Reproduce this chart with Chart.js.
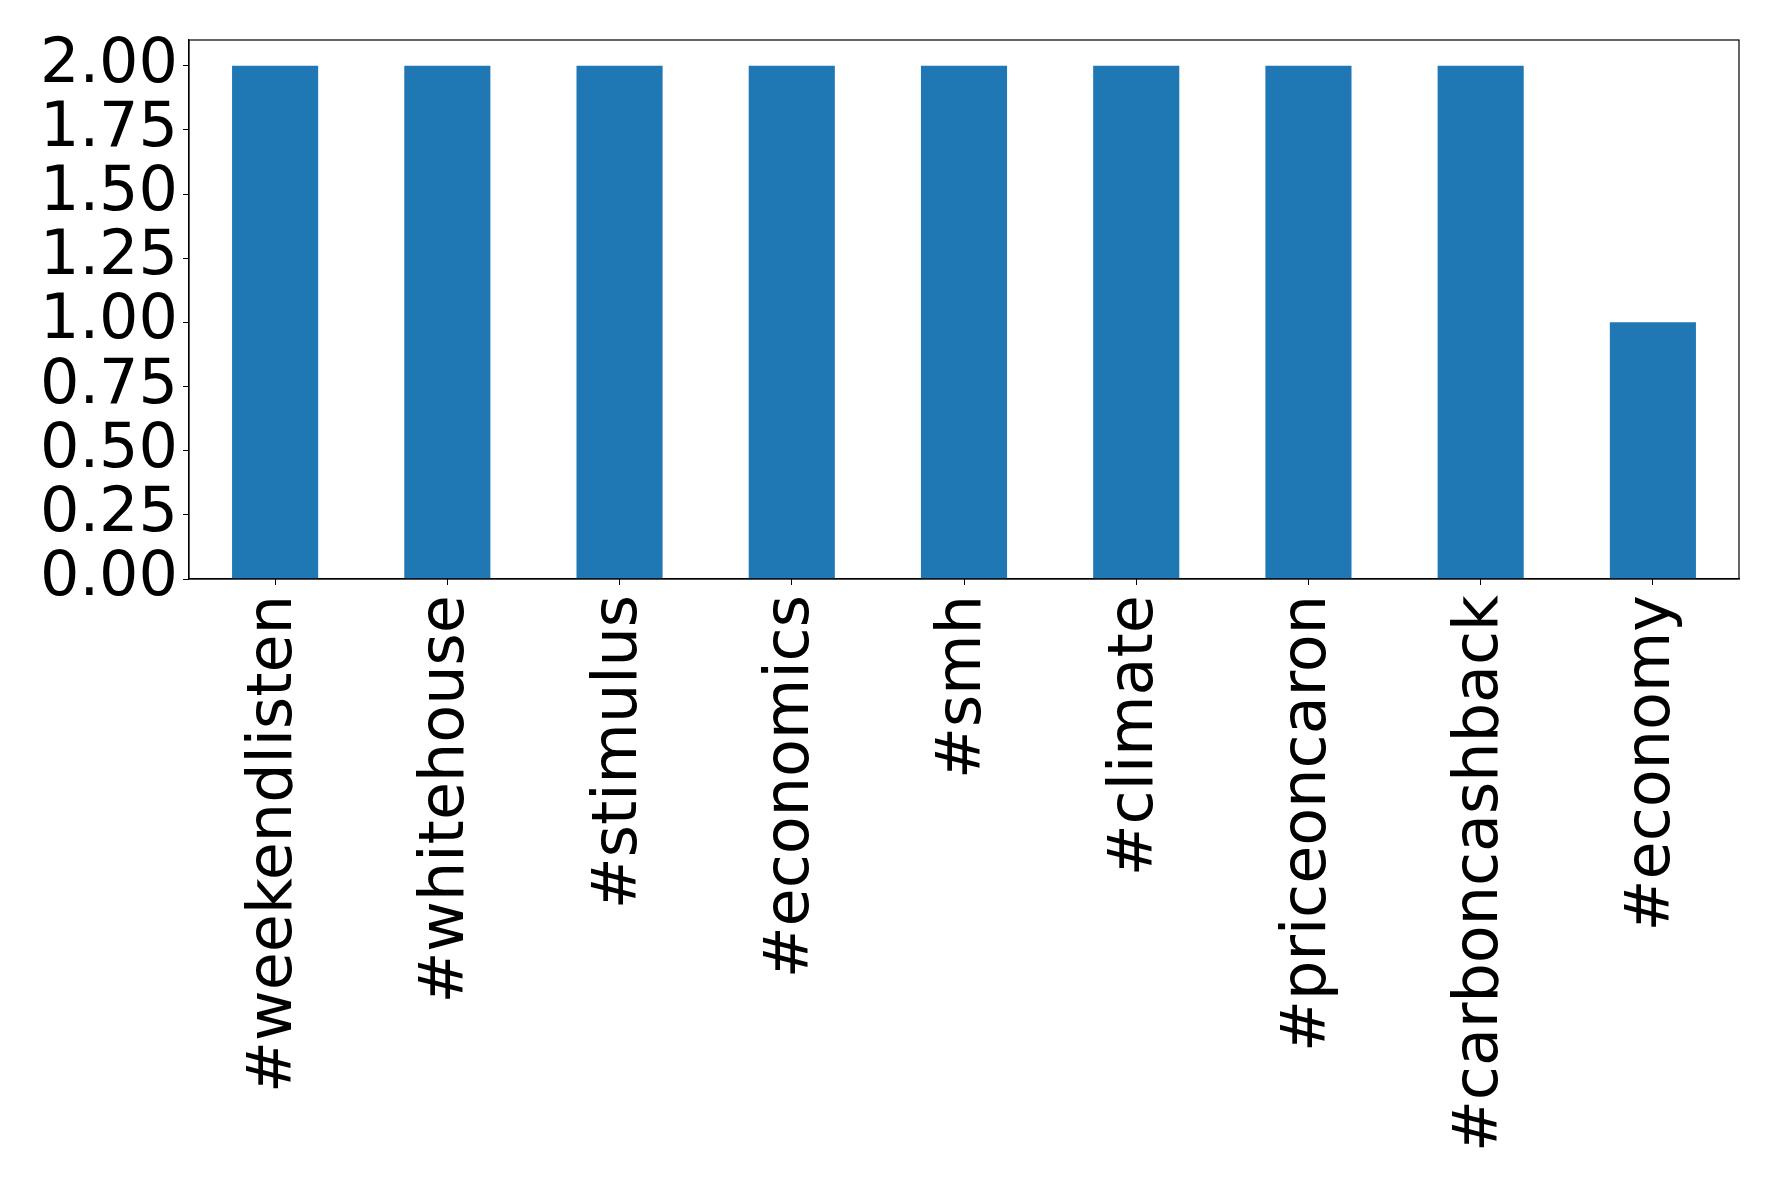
<!DOCTYPE html>
<html>
<head>
<meta charset="utf-8">
<script src="https://cdn.jsdelivr.net/npm/chart.js@4/dist/chart.umd.min.js"></script>
<style>
html,body{margin:0;padding:0;background:#fff;}
canvas{display:block;}
</style>
</head>
<body>
<canvas id="c" width="1778" height="1190"></canvas>
<script>
const categories = ["#weekendlisten","#whitehouse","#stimulus","#economics","#smh","#climate","#priceoncaron","#carboncashback","#economy"];
const counts = [2,2,2,2,2,2,2,2,1];
const yTicks = [0,0.25,0.5,0.75,1.0,1.25,1.5,1.75,2.0];

const PAD = {left:0, right:39, top:40, bottom:0};
const Y_W = 189, X_H = 1190 - 579;

const frame = {
  id:'frame',
  afterDraw(chart){
    const a = chart.chartArea, ctx = chart.ctx;
    ctx.save();
    ctx.strokeStyle = '#000';
    ctx.lineWidth = 1.2;
    ctx.strokeRect(a.left, a.top, a.right - a.left, a.bottom - a.top);
    ctx.restore();
  }
};

new Chart(document.getElementById('c'), {
  type:'bar',
  data:{
    labels:categories,
    datasets:[{data:counts, backgroundColor:'#1f77b4', borderWidth:0, barPercentage:0.5, categoryPercentage:1.0}]
  },
  options:{
    responsive:false,
    animation:false,
    layout:{padding:PAD},
    plugins:{legend:{display:false}, tooltip:{enabled:false}},
    scales:{
      x:{
        offset:true,
        grid:{display:true, offset:false, drawOnChartArea:false, tickLength:6, color:'#000', tickColor:'#000'},
        border:{display:true, color:'#000', width:1.2},
        ticks:{color:'#000', font:{family:'DejaVu Sans', size:62}, maxRotation:90, minRotation:90, padding:10, autoSkip:false},
        afterFit(s){ s.height = X_H; s.paddingTop = 0; s.paddingBottom = 0; }
      },
      y:{
        min:0, max:2.1,
        afterBuildTicks(s){ s.ticks = yTicks.map(v=>({value:v})); },
        grid:{display:true, drawOnChartArea:false, tickLength:6, color:'#000', tickColor:'#000'},
        border:{display:true, color:'#000', width:1.2},
        ticks:{color:'#000', font:{family:'DejaVu Sans', size:62}, padding:5, autoSkip:false, callback:v=>Number(v).toFixed(2)},
        afterFit(s){ s.width = Y_W; s.paddingTop = 0; s.paddingBottom = 0; }
      }
    }
  },
  plugins:[frame]
});
</script>
</body>
</html>
